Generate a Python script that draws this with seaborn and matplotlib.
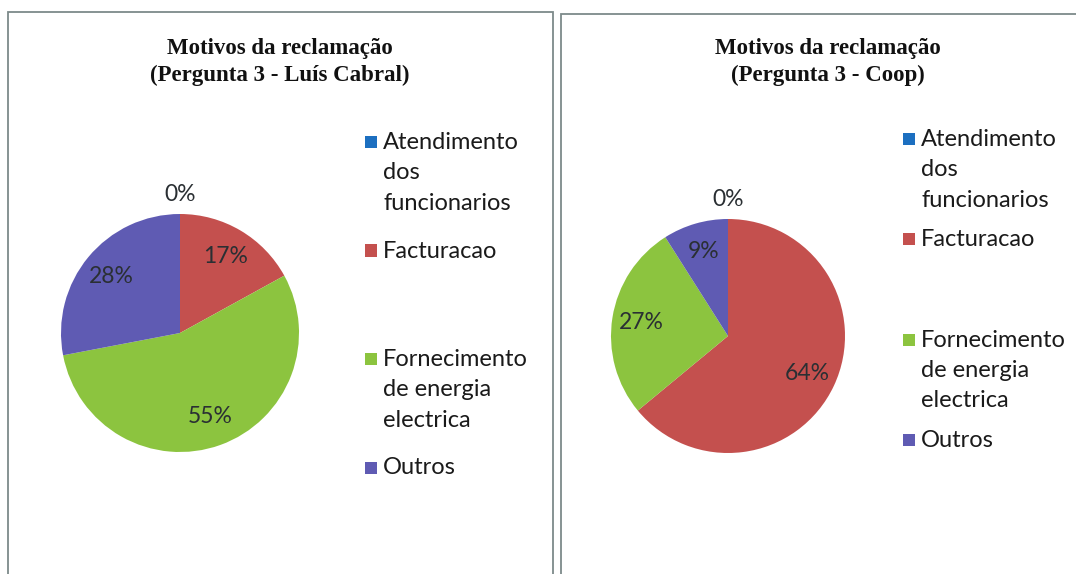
import matplotlib
matplotlib.use("Agg")
import matplotlib.pyplot as plt
from matplotlib.patches import Rectangle
import seaborn as sns

categorias = ["Atendimento\ndos\nfuncionarios", "Facturacao",
              "Fornecimento\nde energia\nelectrica", "Outros"]
valores_cabral = [0, 17, 55, 28]
valores_coop = [0, 64, 27, 9]
titulo_cabral = "Motivos da reclamação\n(Pergunta 3 - Luís Cabral)"
titulo_coop = "Motivos da reclamação\n(Pergunta 3 - Coop)"

cores = ["#1c6fc0", "#c4504e", "#8cc43f", "#5f5bb3"]

sns.set_theme(style="white")
plt.rcParams["font.family"] = ["Lato", "DejaVu Sans"]

W, H = 1076, 574
fig = plt.figure(figsize=(W / 100, H / 100), dpi=100)
fig.patch.set_facecolor("white")


def fx(px):
    return px / W


def fy(py):
    return 1 - py / H


# molduras das duas caixas
for x0, x1, y0 in [(8, 553, 12), (561, 1090, 14)]:
    fig.patches.append(Rectangle((fx(x0), -0.05), fx(x1 - x0), fy(y0) + 0.05,
                                 transform=fig.transFigure, fill=False,
                                 edgecolor="#7d8a8a", linewidth=1.3))


def desenhar(valores, titulo, cx, cy, r, tx, leg_x, leg_y, leg_step):
    ax = fig.add_axes([fx(cx - r), fy(cy + r), fx(2 * r), (2 * r) / H])
    wedges, _, autotexts = ax.pie(
        valores, colors=cores, startangle=90, counterclock=False,
        autopct="%1.0f%%", pctdistance=0.75, radius=1,
        textprops=dict(fontsize=16.5, color="#2a2f33"),
        wedgeprops=dict(linewidth=0))
    ax.set_xlim(-1, 1)
    ax.set_ylim(-1, 1)
    # rótulo do 0% fica por fora, em cima da fatia
    for v, t in zip(valores, autotexts):
        if v == 0:
            x, y = t.get_position()
            t.set_position((x * 1.55, y * 1.55))
    fig.text(fx(tx), fy(62), titulo, ha="center", va="center",
             fontsize=16.5, fontweight="bold", family="Liberation Serif",
             linespacing=1.35, color="#111")
    # legenda à moda do Excel: caixas de altura igual
    for i, (cat, cor) in enumerate(zip(categorias, cores)):
        y = leg_y + i * leg_step
        fig.patches.append(Rectangle((fx(leg_x), fy(y + 7)), fx(12), 12 / H,
                                     transform=fig.transFigure,
                                     facecolor=cor, edgecolor="none"))
        fig.text(fx(leg_x + 18), fy(y - 9), cat, ha="left", va="top",
                 fontsize=17, color="#1a1a1a", linespacing=1.55)


desenhar(valores_cabral, titulo_cabral, 180, 333, 119, 280, 365, 141, 108.5)
desenhar(valores_coop, titulo_coop, 728, 336, 117, 828, 903, 138, 100.3)

fig.savefig("out.png", dpi=100)
